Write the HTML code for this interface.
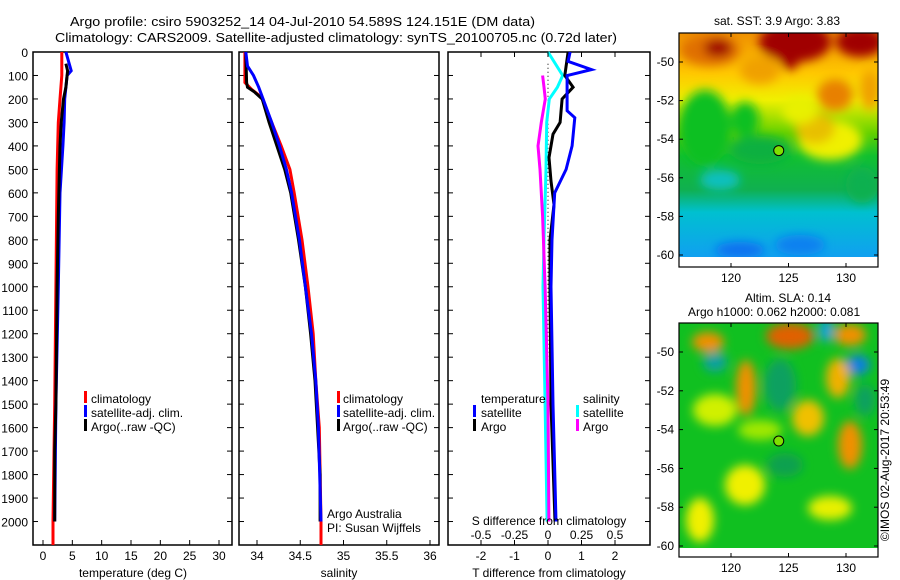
<!DOCTYPE html>
<html><head><meta charset="utf-8">
<style>
body{margin:0;background:#fff;}
svg{display:block;font-family:"Liberation Sans",sans-serif;}
text{font-size:12px;fill:#000;}
</style></head>
<body>
<svg id="c" width="900" height="580" viewBox="0 0 900 580" xmlns="http://www.w3.org/2000/svg">
<defs>
<filter id="bl" x="-50%" y="-50%" width="200%" height="200%"><feGaussianBlur stdDeviation="5"/></filter>
<clipPath id="m1c"><rect x="679" y="33" width="199" height="224"/></clipPath>
<clipPath id="m2c"><rect x="679" y="323" width="199" height="225"/></clipPath>
<linearGradient id="g1" x1="0" y1="0" x2="0" y2="1">
<stop offset="0" stop-color="#f09000"/><stop offset="0.18" stop-color="#ffc800"/>
<stop offset="0.3" stop-color="#f0f000"/><stop offset="0.45" stop-color="#60d000"/>
<stop offset="0.55" stop-color="#10c030"/><stop offset="0.7" stop-color="#10b050"/>
<stop offset="0.8" stop-color="#00c0d0"/><stop offset="1" stop-color="#10a0f0"/></linearGradient>
</defs>
<text x="70" y="26" textLength="465" lengthAdjust="spacingAndGlyphs" style="font-size:13px">Argo profile: csiro 5903252_14 04-Jul-2010 54.589S 124.151E (DM data)</text>
<text x="55" y="42" textLength="562" lengthAdjust="spacingAndGlyphs" style="font-size:13px">Climatology: CARS2009. Satellite-adjusted climatology: synTS_20100705.nc (0.72d later)</text>
<g id="maps">
 <g clip-path="url(#m1c)">
  <rect x="679" y="33" width="199" height="224" fill="url(#g1)"/>
  <g filter="url(#bl)">
   <ellipse cx="710" cy="50" rx="30" ry="16" fill="#e07000"/>
   <ellipse cx="718" cy="48" rx="14" ry="9" fill="#a00000"/>
   <ellipse cx="795" cy="42" rx="36" ry="20" fill="#a00000"/>
   <ellipse cx="790" cy="55" rx="10" ry="15" fill="#a00000"/>
   <ellipse cx="860" cy="42" rx="24" ry="15" fill="#a00000"/>
   <ellipse cx="835" cy="95" rx="18" ry="16" fill="#e88000"/>
   <ellipse cx="870" cy="90" rx="10" ry="20" fill="#f0a000"/>
   <ellipse cx="760" cy="70" rx="20" ry="14" fill="#f0a000"/>
   <ellipse cx="705" cy="128" rx="26" ry="38" fill="#10c020"/>
   <ellipse cx="745" cy="120" rx="14" ry="18" fill="#10c020"/>
   <ellipse cx="830" cy="140" rx="32" ry="20" fill="#f0f000"/>
   <ellipse cx="815" cy="128" rx="20" ry="16" fill="#e8c000"/>
   <ellipse cx="800" cy="110" rx="18" ry="14" fill="#e8f000"/>
   <ellipse cx="760" cy="150" rx="30" ry="14" fill="#10b040"/>
   <ellipse cx="862" cy="185" rx="16" ry="18" fill="#10b050"/>
   <ellipse cx="720" cy="180" rx="20" ry="10" fill="#10c0c0"/>
   <ellipse cx="800" cy="245" rx="25" ry="10" fill="#1080f0"/>
   <ellipse cx="740" cy="250" rx="25" ry="8" fill="#1070f0"/>
  </g>
 </g>
 <g clip-path="url(#m2c)">
  <rect x="679" y="323" width="199" height="225" fill="#10c020"/>
  <g filter="url(#bl)">
   <ellipse cx="708" cy="342" rx="16" ry="10" fill="#f09000"/>
   <ellipse cx="790" cy="336" rx="24" ry="13" fill="#e06000"/>
   <ellipse cx="826" cy="330" rx="7" ry="12" fill="#10a0e0"/>
   <ellipse cx="858" cy="365" rx="12" ry="10" fill="#1080e0"/>
   <ellipse cx="850" cy="335" rx="16" ry="11" fill="#f09000"/>
   <ellipse cx="715" cy="362" rx="12" ry="10" fill="#10a0a0"/>
   <ellipse cx="746" cy="388" rx="10" ry="28" fill="#f09000"/>
   <ellipse cx="838" cy="378" rx="12" ry="20" fill="#f0b000"/>
   <ellipse cx="780" cy="385" rx="16" ry="26" fill="#10a060"/>
   <ellipse cx="808" cy="418" rx="16" ry="18" fill="#f0c000"/>
   <ellipse cx="850" cy="445" rx="12" ry="24" fill="#f09000"/>
   <ellipse cx="715" cy="410" rx="22" ry="16" fill="#d0f000"/>
   <ellipse cx="760" cy="430" rx="22" ry="10" fill="#a0e800"/>
   <ellipse cx="745" cy="485" rx="20" ry="20" fill="#f0f000"/>
   <ellipse cx="830" cy="508" rx="22" ry="12" fill="#e8f000"/>
   <ellipse cx="700" cy="520" rx="14" ry="22" fill="#f0f000"/>
   <ellipse cx="785" cy="465" rx="18" ry="12" fill="#10a050"/>
   <ellipse cx="865" cy="400" rx="10" ry="16" fill="#10a060"/>
  </g>
 </g>
</g>
<g id="plots"></g>
</svg>
<script>
// depths (dbar) for profile samples
const tClimDepth=[0,100,200,300,500,1000,1500,2000,2100];
const tClim=[3.2,3.2,2.9,2.6,2.4,2.2,2.0,1.7,1.7];
const tSatDepth=[0,80,100,200,300,400,600,1000,1500,2000];
const tSat=[3.9,4.8,4.1,3.7,3.6,3.4,2.9,2.6,2.2,2.0];
const tArgoDepth=[50,80,100,150,200,300,400,500,700,1000,1500,1700,2000];
const tArgo=[3.9,4.2,4.1,3.9,3.5,3.1,2.9,2.8,2.6,2.4,2.2,2.0,2.0];
const sDepth=[0,130,160,180,200,300,400,500,600,800,1000,1200,1400,1600,2000,2100];
const sClim=[33.86,33.86,33.94,34.01,34.06,34.17,34.28,34.38,34.43,34.52,34.59,34.65,34.68,34.72,34.74,34.74];
const sArgoDepth=[0,130,150,170,200,300,400,500,600,800,1000,1200,1400,1600,1800,2000];
const sArgo=[33.87,33.88,33.89,33.97,34.06,34.14,34.23,34.32,34.39,34.48,34.56,34.62,34.67,34.70,34.73,34.73];
const sSatDepth=[0,60,100,150,200,300,400,500,600,800,1000,1200,1400,1600,2000];
const sSat=[33.87,33.89,33.96,34.02,34.07,34.17,34.26,34.34,34.40,34.49,34.56,34.63,34.68,34.71,34.74];
const dTSatDepth=[0,40,75,100,250,280,400,500,600,800,1000,1500,2000];
const dTSat=[0.66,0.6,1.3,0.57,0.57,0.8,0.72,0.54,0.2,0.12,0.09,0.15,0.24];
const dTArgoDepth=[0,100,150,200,300,350,450,550,650,800,1000,1500,2000];
const dTArgo=[0.6,0.5,0.75,0.42,0.36,0.15,0.03,0.09,0.18,0.06,0.06,0.09,0.21];
const dSSatDepth=[0,100,150,200,300,500,800,1000,1500,2000];
const dSSat=[0,0.11,0.07,0.01,-0.01,-0.015,-0.03,-0.037,-0.022,-0.007];
const dSArgoDepth=[100,150,200,300,400,500,700,1000,1500,2000];
const dSArgo=[-0.04,-0.03,-0.02,-0.05,-0.075,-0.06,-0.04,-0.022,0,0.007];
const depthTicks=[0,100,200,300,400,500,600,700,800,900,1000,1100,1200,1300,1400,1500,1600,1700,1800,1900,2000];
const tTicks=[0,5,10,15,20,25,30];
const sTicks=[34,34.5,35,35.5,36];
const dTTicks=[-2,-1,0,1,2];
const dSTicks=[-0.5,-0.25,0,0.25,0.5];
const dSTickLabels=['-0.5','-0.25','0','0.25','0.5'];
const latTicks=[-50,-52,-54,-56,-58,-60];
const lonTicks=[120,125,130];

const NS='http://www.w3.org/2000/svg';
const root=document.getElementById('plots');
function el(tag,attrs,parent){const e=document.createElementNS(NS,tag);for(const k in attrs)e.setAttribute(k,attrs[k]);(parent||root).appendChild(e);return e;}
const Y0=52,Y1=545,DMAX=2100;
const yD=d=>Y0+(Y1-Y0)*d/DMAX;
function lin(d0,d1,r0,r1){return v=>r0+(v-d0)*(r1-r0)/(d1-d0);}
const xT=lin(0,30,43,219);
const xS=lin(34,36,257,430);
const xDT=lin(-2,2,481,615);
const xDS=lin(-0.5,0.5,481,615);

function frame(x0,x1,name){
  const r=el('rect',{x:x0,y:Y0,width:x1-x0,height:Y1-Y0,fill:'none',stroke:'#000','stroke-width':1.5});
  
  
  depthTicks.forEach(d=>{el('line',{x1:x0,x2:x0+5,y1:yD(d),y2:yD(d),stroke:'#000'});el('line',{x1:x1,x2:x1-5,y1:yD(d),y2:yD(d),stroke:'#000'});});
}
function line(vals,depths,xf,color,name,dash){
  const pts=vals.map((v,i)=>xf(v).toFixed(1)+','+yD(depths[i]).toFixed(1)).join(' ');
  const p=el('polyline',{points:pts,fill:'none',stroke:color,'stroke-width':dash?1:3,'stroke-dasharray':dash||'none'});
  
  
}
function xticks(ticks,xf,labels,yLab,x0,x1,top){
  ticks.forEach((t,i)=>{const x=xf(t);
    el('line',{x1:x,x2:x,y1:Y1,y2:Y1-5,stroke:'#000'});
    if(top)el('line',{x1:x,x2:x,y1:Y0,y2:Y0+5,stroke:'#000'});
    const tx=el('text',{x:x,y:yLab,'text-anchor':'middle'});tx.textContent=labels?labels[i]:t;
    
    
  });
}
function txt(x,y,s,name,anchor){const t=el('text',{x:x,y:y,'text-anchor':anchor||'start'});t.textContent=s;
  
  return t;}
function legbar(x,y,c){el('rect',{x:x,y:y-11,width:3,height:12,fill:c});}

// Panel 1
frame(33,232,'temperature-panel');
depthTicks.forEach(d=>{const t=el('text',{x:28,y:yD(d)+5,'text-anchor':'end'});t.textContent=d;
  
  });
line(tClim,tClimDepth,xT,'#ff0000','temp-climatology-line');
line(tSat,tSatDepth,xT,'#0000ff','temp-satellite-line');
line(tArgo,tArgoDepth,xT,'#000000','temp-argo-line');
xticks(tTicks,xT,null,560);
txt(133,577,'temperature (deg C)','temperature-axis-title','middle');
legbar(84,402,'#ff0000');txt(91,403,'climatology','legend-climatology');
legbar(84,416,'#0000ff');txt(91,417,'satellite-adj. clim.','legend-satellite');
legbar(84,430,'#000');txt(91,431,'Argo(..raw -QC)','legend-argo');

// Panel 2
frame(239,439,'salinity-panel');
line(sClim,sDepth,xS,'#ff0000','sal-climatology-line');
line(sArgo,sArgoDepth,xS,'#000000','sal-argo-line');
line(sSat,sSatDepth,xS,'#0000ff','sal-satellite-line');
xticks(sTicks,xS,null,560);
txt(339,577,'salinity','salinity-axis-title','middle');
legbar(337,402,'#ff0000');txt(343,403,'climatology','legend-climatology-2');
legbar(337,416,'#0000ff');txt(343,417,'satellite-adj. clim.','legend-satellite-2');
legbar(337,430,'#000');txt(343,431,'Argo(..raw -QC)','legend-argo-2');
txt(327,518,'Argo Australia','argo-australia-label');
txt(327,532,'PI: Susan Wijffels','pi-label');

// Panel 3
frame(448,650,'difference-panel');
el('line',{x1:xDT(0),x2:xDT(0),y1:yD(50),y2:yD(2000),stroke:'#000','stroke-dasharray':'1,3'});
line(dSSat,dSSatDepth,xDS,'#00ffff','sal-diff-satellite-line');
line(dSArgo,dSArgoDepth,xDS,'#ff00ff','sal-diff-argo-line');
line(dTArgo,dTArgoDepth,xDT,'#000000','temp-diff-argo-line');
line(dTSat,dTSatDepth,xDT,'#0000ff','temp-diff-satellite-line');
xticks(dTTicks,xDT,null,560,0,0,true);
dSTicks.forEach((t,i)=>{const tx=el('text',{x:xDS(t),y:539,'text-anchor':'middle'});tx.textContent=dSTickLabels[i];
  
  });
txt(549,525,'S difference from climatology','s-diff-axis-title','middle');
txt(549,577,'T difference from climatology','t-diff-axis-title','middle');
txt(481,403,'temperature','legend-temperature-heading');
txt(583,403,'salinity','legend-salinity-heading');
legbar(473,416,'#0000ff');txt(481,417,'satellite','legend-temp-satellite');
legbar(473,430,'#000');txt(481,431,'Argo','legend-temp-argo');
legbar(576,416,'#00ffff');txt(583,417,'satellite','legend-sal-satellite');
legbar(576,430,'#ff00ff');txt(583,431,'Argo','legend-sal-argo');

// Maps
const maps=[{y0:33,y1:267,lat50:62,lat60:255,name:'sst-map-frame'},{y0:323,y1:557,lat50:352,lat60:546,name:'sla-map-frame'}];
const xLon=lin(120,130,731,846);
maps.forEach(m=>{
  const r=el('rect',{x:679,y:m.y0,width:199,height:m.y1-m.y0,fill:'none',stroke:'#000','stroke-width':1.2});
  
  
  const yL=lin(-50,-60,m.lat50,m.lat60);
  latTicks.forEach(l=>{const y=yL(l);el('line',{x1:679,x2:683,y1:y,y2:y,stroke:'#000'});el('line',{x1:878,x2:874,y1:y,y2:y,stroke:'#000'});
    const t=el('text',{x:674,y:y+4,'text-anchor':'end'});t.textContent=l;
    
    });
  lonTicks.forEach(l=>{const x=xLon(l);el('line',{x1:x,x2:x,y1:m.y1,y2:m.y1-4,stroke:'#000'});el('line',{x1:x,x2:x,y1:m.y0,y2:m.y0+4,stroke:'#000'});
    const t=el('text',{x:x,y:m.y1+15,'text-anchor':'middle'});t.textContent=l;
    
    });
  const c=el('circle',{cx:xLon(124.151),cy:yL(-54.589),r:5,fill:'#80e000',stroke:'#000','stroke-width':1});
  
  
});
txt(777,25,'sat. SST: 3.9 Argo: 3.83','sst-map-title','middle');
txt(745,302,'Altim. SLA: 0.14','sla-map-title');
txt(688,316,'Argo h1000: 0.062 h2000: 0.081','sla-map-subtitle');
const cr=txt(0,0,'\u00A9IMOS 02-Aug-2017 20:53:49','copyright-label','middle');
cr.setAttribute('transform','translate(889,460) rotate(-90)');
</script>
</body></html>
